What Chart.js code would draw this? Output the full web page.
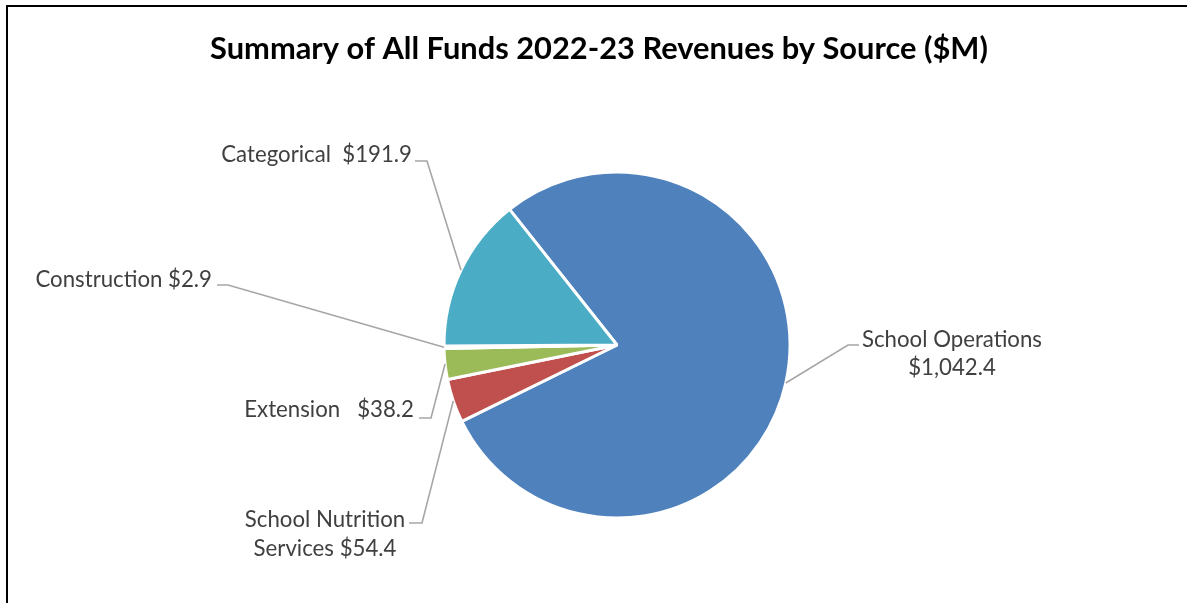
<!DOCTYPE html>
<html><head><meta charset="utf-8">
<script src="https://cdn.jsdelivr.net/npm/chart.js@4.4.0/dist/chart.umd.min.js"></script>
<style>html,body{margin:0;padding:0;background:#fff;overflow:hidden}#wrap{width:1187px;height:603px}</style>
</head><body><div id="wrap"><canvas id="c" width="1187" height="603"></canvas></div>
<script>
const titleText = "Summary of All Funds 2022-23 Revenues by Source ($M)";
const categories = ["School Operations", "School Nutrition Services", "Extension", "Construction", "Categorical"];
const revenues = [1042.4, 54.4, 38.2, 2.9, 191.9];
const sliceColors = ["#4F81BD", "#C0504D", "#9BBB59", "#8064A2", "#4BACC6"];

function money(v) { return "$" + v.toLocaleString("en-US", {minimumFractionDigits: 1, maximumFractionDigits: 1}); }

// label layout (text placement and leader elbows only)
const labelLayout = [
  {split: "School Operations|", sep: "", x: 952, y: 340, align: "center", gap: 28, elbow: [848, 345], end: [859, 345]},
  {split: "School Nutrition|", sep: " ", x: 325, y: 520, align: "center", gap: 29, elbow: [422, 523], end: [409, 523]},
  {split: null, sep: "   ", x: 414, y: 410, align: "right", gap: 0, elbow: [431, 418], end: [419, 418]},
  {split: null, sep: " ", x: 212, y: 280, align: "right", gap: 0, elbow: [228, 285], end: [217, 285]},
  {split: null, sep: "  ", x: 412, y: 155, align: "right", gap: 0, elbow: [427, 161], end: [415, 161]}
];

function labelLinesFor(i) {
  const L = labelLayout[i], cat = categories[i], val = money(revenues[i]);
  if (L.split) {
    const first = L.split.replace("|", "");
    const rest = cat.slice(first.length).trim();
    return [first, (rest ? rest + L.sep : "") + val];
  }
  return [cat + L.sep + val];
}

const FONT = "Lato, 'Noto Sans', sans-serif";

const decor = {
  id: "decor",
  afterDraw(chart) {
    const ctx = chart.ctx;
    ctx.save();
    // frame
    ctx.fillStyle = "#000";
    ctx.fillRect(6, 5, 1181, 2);
    ctx.fillRect(6, 5, 2, 598);
    // title
    ctx.font = "bold 100px " + FONT;
    let tw = ctx.measureText(titleText).width;
    const tSize = 100 * 778 / tw;
    ctx.font = "bold " + tSize.toFixed(2) + "px " + FONT;
    ctx.fillStyle = "#000";
    ctx.textAlign = "center";
    ctx.textBaseline = "middle";
    ctx.fillText(titleText, 599, 49);
    // labels font size fitted
    ctx.font = "100px " + FONT;
    const lw = ctx.measureText("School Operations").width;
    const lSize = 100 * 180 / lw;
    ctx.font = lSize.toFixed(2) + "px " + FONT;
    const meta = chart.getDatasetMeta(0);
    meta.data.forEach((arc, i) => {
      const L = labelLayout[i];
      const p = arc.getProps(["x", "y", "startAngle", "endAngle", "outerRadius"], true);
      const mid = (p.startAngle + p.endAngle) / 2;
      const ax = p.x + Math.cos(mid) * p.outerRadius;
      const ay = p.y + Math.sin(mid) * p.outerRadius;
      ctx.strokeStyle = "#A6A6A6";
      ctx.lineWidth = 1.6;
      ctx.beginPath();
      ctx.moveTo(ax, ay);
      ctx.lineTo(L.elbow[0], L.elbow[1]);
      ctx.lineTo(L.end[0], L.end[1]);
      ctx.stroke();
      ctx.fillStyle = "#404040";
      ctx.textAlign = L.align;
      ctx.textBaseline = "middle";
      labelLinesFor(i).forEach((t, k) => ctx.fillText(t, L.x, L.y + k * L.gap));
    });
    ctx.restore();
  }
};

new Chart(document.getElementById("c"), {
  type: "pie",
  data: {
    labels: categories,
    datasets: [{
      data: revenues,
      backgroundColor: sliceColors,
      borderColor: "#FFFFFF",
      borderWidth: 3
    }]
  },
  options: {
    responsive: false,
    animation: false,
    rotation: 321.6,
    radius: 173,
    layout: {padding: {left: 400, right: 353, top: 150, bottom: 63}},
    plugins: {legend: {display: false}, tooltip: {enabled: false}, title: {display: false}}
  },
  plugins: [decor]
});
</script>
</body></html>
